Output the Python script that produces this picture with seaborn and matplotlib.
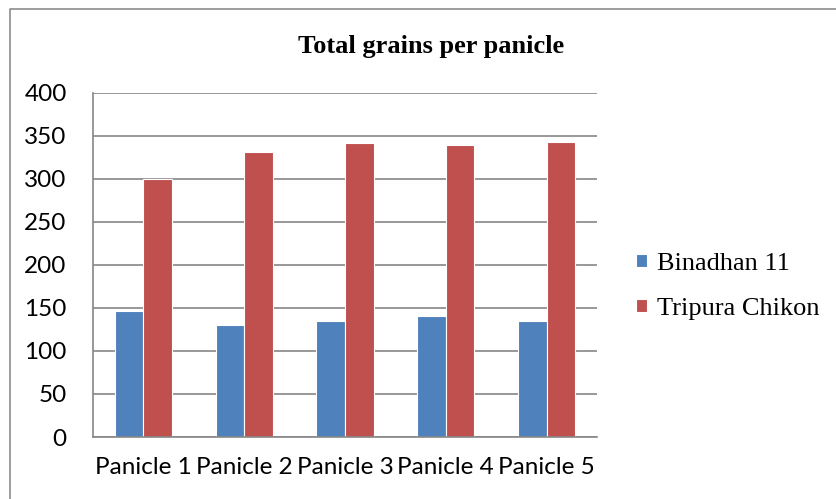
import matplotlib
matplotlib.use("Agg")
import matplotlib.pyplot as plt
from matplotlib.lines import Line2D
import seaborn as sns
import pandas as pd

categories = ["Panicle 1", "Panicle 2", "Panicle 3", "Panicle 4", "Panicle 5"]
series_names = ["Binadhan 11", "Tripura Chikon"]
binadhan_11 = [146, 130, 135, 141, 135]
tripura_chikon = [300, 331, 341, 339, 343]
y_ticks = [0, 50, 100, 150, 200, 250, 300, 350, 400]
title = "Total grains per panicle"

df = pd.DataFrame({
    "Panicle": categories * 2,
    "Variety": [series_names[0]] * len(categories) + [series_names[1]] * len(categories),
    "Grains": binadhan_11 + tripura_chikon,
})

sns.set_theme(style="white")
plt.rcParams["font.family"] = ["Lato", "DejaVu Sans"]
plt.rcParams["text.color"] = "black"

W, H = 837, 499
fig = plt.figure(figsize=(W / 100, H / 100), dpi=100)
ax = fig.add_axes([93 / W, 1 - 437 / H, (597 - 93) / W, (437 - 92.7) / H])

palette = {series_names[0]: "#4F81BD", series_names[1]: "#C0504D"}
sns.barplot(data=df, x="Panicle", y="Grains", hue="Variety", palette=palette,
            width=0.566, edgecolor="white", linewidth=0.8, saturation=1,
            legend=True, ax=ax)

grid_col = "#868686"
ax.set_ylim(0, 400)
ax.set_yticks(y_ticks)
ax.set_xlim(-0.5, len(categories) - 0.5)
ax.yaxis.grid(True, color=grid_col, linewidth=1.2)
ax.set_axisbelow(True)
for s in ["top", "right"]:
    ax.spines[s].set_visible(False)
for s in ["left", "bottom"]:
    ax.spines[s].set_color(grid_col)
    ax.spines[s].set_linewidth(1.2)
ax.set_xlabel("")
ax.set_ylabel("")
ax.tick_params(axis="y", length=0, pad=19, labelsize=17.5, colors="black")
ax.tick_params(axis="x", length=0, pad=14.5, labelsize=17.5, colors="black")

handles, labels = ax.get_legend_handles_labels()
ax.get_legend().remove()
fig.legend(handles, labels, loc="center left", bbox_to_anchor=(636 / W, 1 - 286.5 / H),
           frameon=False, borderpad=0, borderaxespad=0,
           handlelength=0.4, handleheight=0.4, handletextpad=0.38, labelspacing=0.89,
           labelcolor="black",
           prop={"family": "Liberation Serif", "size": 19})

fig.text(431 / W, 1 - 46 / H, title, ha="center", va="center", color="black",
         fontsize=19, fontweight="bold", family="Liberation Serif")

border = Line2D([10.5 / W, 10.5 / W, 1.0], [0.0, 1 - 8.5 / H, 1 - 8.5 / H],
                transform=fig.transFigure, color="#8c8c8c", linewidth=1.2)
fig.add_artist(border)

fig.savefig("out.png", dpi=100)
